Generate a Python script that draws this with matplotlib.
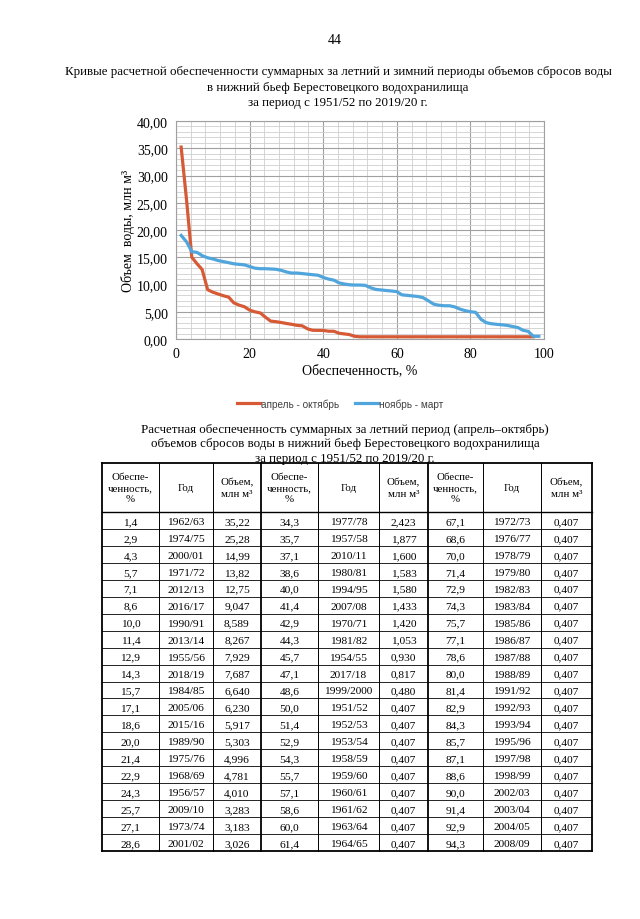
import matplotlib
matplotlib.use("Agg")
import matplotlib.pyplot as plt
from matplotlib.ticker import MultipleLocator, FuncFormatter

plt.rcParams['font.family'] = ['Liberation Serif', 'DejaVu Serif']

# Кривые обеспеченности (график)
summer_p = [1.4, 2.9, 4.3, 5.7, 7.1, 8.6, 10.0, 11.4, 12.9, 14.3, 15.7, 17.1, 18.6, 20.0, 21.4,
            22.9, 24.3, 25.7, 27.1, 28.6, 30.0, 31.4, 32.9, 34.3, 35.7, 37.1, 38.6, 40.0, 41.4,
            42.9, 44.3, 45.7, 47.1, 48.6, 50.0, 51.4, 52.9, 54.3, 55.7, 57.1, 58.6, 60.0, 61.4,
            62.9, 64.3, 65.7, 67.1, 68.6, 70.0, 71.4, 72.9, 74.3, 75.7, 77.1, 78.6, 80.0, 81.4,
            82.9, 84.3, 85.7, 87.1, 88.6, 90.0, 91.4, 92.9, 94.3, 95.7, 97.1]
summer_v = [35.22, 25.28, 14.99, 13.82, 12.75, 9.047, 8.589, 8.267, 7.929, 7.687, 6.640, 6.230,
            5.917, 5.303, 4.996, 4.781, 4.010, 3.283, 3.183, 3.026, 2.85, 2.70, 2.50, 2.423,
            1.877, 1.600, 1.583, 1.580, 1.433, 1.420, 1.053, 0.930, 0.817, 0.480, 0.407, 0.407,
            0.407, 0.407, 0.407, 0.407, 0.407, 0.407, 0.407, 0.407, 0.407, 0.407, 0.407, 0.407,
            0.407, 0.407, 0.407, 0.407, 0.407, 0.407, 0.407, 0.407, 0.407, 0.407, 0.407, 0.407,
            0.407, 0.407, 0.407, 0.407, 0.407, 0.407, 0.407, 0.407]

winter_p = [1.4, 2.9, 4.3, 5.7, 7.1, 8.6, 10.0, 11.4, 12.9, 14.3, 15.7, 17.1, 18.6, 20.0, 21.4,
            22.9, 24.3, 25.7, 27.1, 28.6, 30.0, 31.4, 32.9, 34.3, 35.7, 37.1, 38.6, 40.0, 41.4,
            42.9, 44.3, 45.7, 47.1, 48.6, 50.0, 51.4, 52.9, 54.3, 55.7, 57.1, 58.6, 60.0, 61.4,
            62.9, 64.3, 65.7, 67.1, 68.6, 70.0, 71.4, 72.9, 74.3, 75.7, 77.1, 78.6, 80.0, 81.4,
            82.9, 84.3, 85.7, 87.1, 88.6, 90.0, 91.4, 92.9, 94.3, 95.7, 97.1, 98.6]
winter_v = [19.0, 17.8, 16.0, 15.9, 15.3, 14.9, 14.7, 14.4, 14.2, 14.0, 13.8, 13.7, 13.6, 13.3,
            13.0, 12.9, 12.9, 12.85, 12.8, 12.6, 12.3, 12.1, 12.1, 12.0, 11.9, 11.8, 11.7, 11.3,
            11.0, 10.8, 10.3, 10.1, 9.95, 9.9, 9.9, 9.85, 9.4, 9.1, 9.0, 8.9, 8.8, 8.7, 8.1, 8.0,
            7.9, 7.8, 7.6, 7.0, 6.4, 6.2, 6.1, 6.1, 5.9, 5.5, 5.2, 5.0, 4.9, 3.6, 3.0, 2.8, 2.7,
            2.6, 2.5, 2.3, 2.1, 1.6, 1.4, 0.5, 0.5]

# Таблица (апрель-октябрь)
tab_p1 = [1.4, 2.9, 4.3, 5.7, 7.1, 8.6, 10.0, 11.4, 12.9, 14.3, 15.7, 17.1, 18.6, 20.0, 21.4,
          22.9, 24.3, 25.7, 27.1, 28.6]
tab_y1 = ['1962/63', '1974/75', '2000/01', '1971/72', '2012/13', '2016/17', '1990/91', '2013/14',
          '1955/56', '2018/19', '1984/85', '2005/06', '2015/16', '1989/90', '1975/76', '1968/69',
          '1956/57', '2009/10', '1973/74', '2001/02']
tab_v1 = [35.22, 25.28, 14.99, 13.82, 12.75, 9.047, 8.589, 8.267, 7.929, 7.687, 6.640, 6.230,
          5.917, 5.303, 4.996, 4.781, 4.010, 3.283, 3.183, 3.026]
tab_p2 = [34.3, 35.7, 37.1, 38.6, 40.0, 41.4, 42.9, 44.3, 45.7, 47.1, 48.6, 50.0, 51.4, 52.9,
          54.3, 55.7, 57.1, 58.6, 60.0, 61.4]
tab_y2 = ['1977/78', '1957/58', '2010/11', '1980/81', '1994/95', '2007/08', '1970/71', '1981/82',
          '1954/55', '2017/18', '1999/2000', '1951/52', '1952/53', '1953/54', '1958/59', '1959/60',
          '1960/61', '1961/62', '1963/64', '1964/65']
tab_v2 = [2.423, 1.877, 1.600, 1.583, 1.580, 1.433, 1.420, 1.053, 0.930, 0.817, 0.480, 0.407,
          0.407, 0.407, 0.407, 0.407, 0.407, 0.407, 0.407, 0.407]
tab_p3 = [67.1, 68.6, 70.0, 71.4, 72.9, 74.3, 75.7, 77.1, 78.6, 80.0, 81.4, 82.9, 84.3, 85.7,
          87.1, 88.6, 90.0, 91.4, 92.9, 94.3]
tab_y3 = ['1972/73', '1976/77', '1978/79', '1979/80', '1982/83', '1983/84', '1985/86', '1986/87',
          '1987/88', '1988/89', '1991/92', '1992/93', '1993/94', '1995/96', '1997/98', '1998/99',
          '2002/03', '2003/04', '2004/05', '2008/09']
tab_v3 = [0.407, 0.407, 0.407, 0.407, 0.407, 0.407, 0.407, 0.407, 0.407, 0.407, 0.407, 0.407,
          0.407, 0.407, 0.407, 0.407, 0.407, 0.407, 0.407, 0.407]

header = ['Обеспе-\nченность,\n%', 'Год', 'Объем,\nмлн м³']

W, H = 640, 920
fig = plt.figure(figsize=(W / 100, H / 100), dpi=100)

# слой страницы в пикселях
page = fig.add_axes([0, 0, 1, 1])
page.set_xlim(0, W)
page.set_ylim(H, 0)
page.axis('off')

page.text(335, 40, '44', ha='center', va='center', fontsize=10)
title = ['Кривые расчетной обеспеченности суммарных за летний и зимний периоды объемов сбросов воды',
         'в нижний бьеф Берестовецкого водохранилища',
         'за период с 1951/52 по 2019/20 г.']
for i, line in enumerate(title):
    page.text(338, 72 + i * 15.5, line, ha='center', va='center', fontsize=9.3)

# график
ax = fig.add_axes([176 / W, 1 - 340 / H, (544 - 176) / W, (340 - 122) / H])
ax.plot(summer_p, summer_v, color='#d75a36', lw=2.3, label='апрель - октябрь', zorder=3)
ax.plot(winter_p, winter_v, color='#4fa5dc', lw=2.3, label='ноябрь - март', zorder=4)
ax.set_xlim(0, 100)
ax.set_ylim(0, 40)
ax.xaxis.set_major_locator(MultipleLocator(20))
ax.xaxis.set_minor_locator(MultipleLocator(4))
ax.yaxis.set_major_locator(MultipleLocator(5))
ax.yaxis.set_minor_locator(MultipleLocator(1))
ax.yaxis.set_major_formatter(FuncFormatter(lambda v, _: f'{v:.2f}'.replace('.', ',')))
ax.grid(which='major', color='#a0a0a0', lw=0.8)
ax.grid(which='minor', color='#cfcfcf', lw=0.6)
ax.tick_params(which='both', length=0, labelsize=10, pad=6)
for s in ax.spines.values():
    s.set_color('#a0a0a0')
    s.set_linewidth(0.8)
ax.set_xlabel('Обеспеченность, %', fontsize=10, labelpad=2)
ax.set_ylabel('Объем  воды, млн м³', fontsize=10, labelpad=1)
ax.legend(loc='center', bbox_to_anchor=(0.445, -0.295), ncol=2, frameon=False,
          prop={'family': 'Liberation Sans', 'size': 7.2}, handlelength=2.3,
          columnspacing=1.6, handletextpad=0.1, labelcolor='#404040')

# таблица
subtitle = ['Расчетная обеспеченность суммарных за летний период (апрель–октябрь)',
            'объемов сбросов воды в нижний бьеф Берестовецкого водохранилища',
            'за период с 1951/52 по 2019/20 г.']
for i, line in enumerate(subtitle):
    page.text(345, 430 + i * 14.5, line, ha='center', va='center', fontsize=9.3)

col_x = [102, 159, 213, 261, 318, 379, 428, 483, 541, 592]
top, head_bot, bottom = 464, 513, 852
nrows = len(tab_p1)
row_h = (bottom - head_bot) / nrows

for i, x in enumerate(col_x):
    lw = 1.3 if i in (0, 3, 6, 9) else 0.7
    page.plot([x, x], [top, bottom], color='black', lw=lw)
page.plot([col_x[0], col_x[-1]], [top, top], color='black', lw=1.3)
page.plot([col_x[0], col_x[-1]], [head_bot, head_bot], color='black', lw=1.0)
page.plot([col_x[0], col_x[-1]], [bottom, bottom], color='black', lw=1.3)
for r in range(1, nrows):
    yy = head_bot + r * row_h
    page.plot([col_x[0], col_x[-1]], [yy, yy], color='black', lw=0.6)

for g in range(3):
    for k, txt in enumerate(header):
        c = g * 3 + k
        page.text((col_x[c] + col_x[c + 1]) / 2, (top + head_bot) / 2, txt,
                  ha='center', va='center', fontsize=7.8, linespacing=1.35)


def fmt_v(v):
    s = f'{v:.2f}' if v >= 10 else f'{v:.3f}'
    return s.replace('.', ',')


groups = [(tab_p1, tab_y1, tab_v1), (tab_p2, tab_y2, tab_v2), (tab_p3, tab_y3, tab_v3)]
for g, (ps, ys, vs) in enumerate(groups):
    for r in range(nrows):
        yc = head_bot + (r + 0.5) * row_h + 1
        cells = [f'{ps[r]:.1f}'.replace('.', ','), ys[r], fmt_v(vs[r])]
        for k, txt in enumerate(cells):
            c = g * 3 + k
            page.text((col_x[c] + col_x[c + 1]) / 2, yc, txt,
                      ha='center', va='center', fontsize=8.2)

fig.savefig('out.png', dpi=100)
